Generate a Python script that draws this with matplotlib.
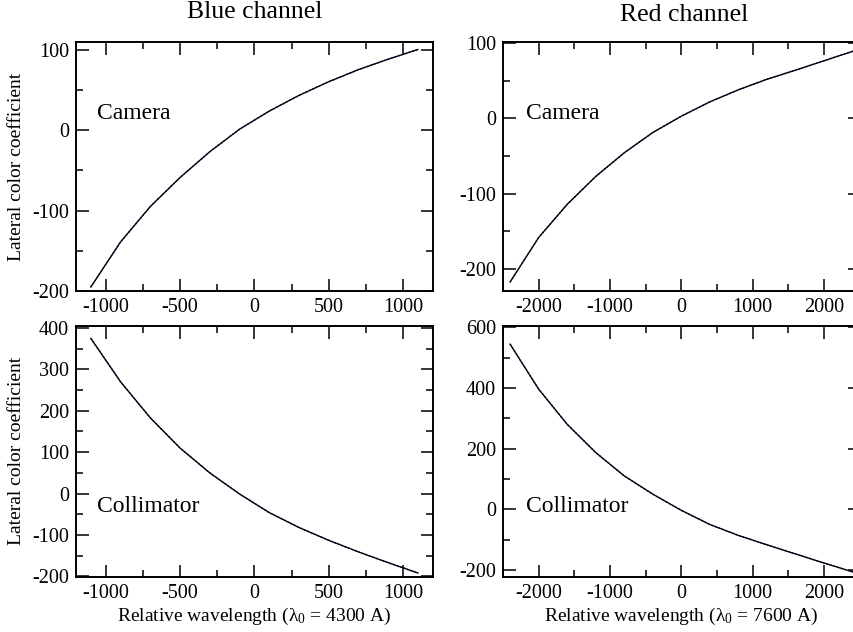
import matplotlib
matplotlib.use("Agg")
import matplotlib.pyplot as plt
from matplotlib.ticker import MultipleLocator

plt.rcParams['font.family'] = ['Liberation Serif', 'DejaVu Serif']
plt.rcParams['mathtext.fontset'] = 'custom'
plt.rcParams['mathtext.rm'] = 'Liberation Serif'
plt.rcParams['mathtext.it'] = 'Liberation Serif:italic'
plt.rcParams['axes.unicode_minus'] = False

# Blue channel data
blue_x = [-1100, -900, -700, -500, -300, -100, 100, 300, 500, 700, 900, 1100]
blue_camera = [-195, -139, -95, -59, -27, 1, 23.5, 43, 60, 75, 88, 100]
blue_collimator = [375, 270, 183, 110, 50, -1, -46, -82, -113, -141, -167, -192]

# Red channel data
red_x = [-2400, -2000, -1600, -1200, -800, -400, 0, 400, 800, 1200, 1600, 2000, 2400]
red_camera = [-217, -158, -114, -77, -45.6, -18.7, 3, 22, 38, 52, 64, 76.5, 89]
red_collimator = [544, 396, 280, 187, 110, 50, -3.5, -50, -86, -117, -147, -177, -206]

titles = ["Blue channel", "Red channel"]
ylabel = "Lateral color coefficient"
xlabels = ["Relative wavelength (λ$_0$ = 4300 A)", "Relative wavelength (λ$_0$ = 7600 A)"]

W, H = 854, 632
fig = plt.figure(figsize=(W / 100, H / 100), dpi=100)

def rect(l, r, t, b):
    return [l / W, (H - b) / H, (r - l) / W, (b - t) / H]

ax_tl = fig.add_axes(rect(76, 432.7, 42.3, 291))
ax_tr = fig.add_axes(rect(503, 859.7, 42.3, 291))
ax_bl = fig.add_axes(rect(76, 432.7, 326, 576.7))
ax_br = fig.add_axes(rect(503, 859.7, 326, 576.7))

def style(ax, xmaj, xmin, ymaj, ymin):
    ax.xaxis.set_major_locator(MultipleLocator(xmaj))
    ax.xaxis.set_minor_locator(MultipleLocator(xmin))
    ax.yaxis.set_major_locator(MultipleLocator(ymaj))
    ax.yaxis.set_minor_locator(MultipleLocator(ymin))
    ax.tick_params(which='both', direction='in', top=True, right=True, width=1.1, color='black')
    ax.tick_params(which='major', length=9, labelsize=14.5, pad=5)
    ax.tick_params(which='minor', length=5)
    for s in ax.spines.values():
        s.set_linewidth(1.4)

def draw(ax, x, y):
    ax.plot(x, y, color='blue', lw=1.0, ls=':')
    ax.plot(x, y, color='black', lw=1.0)

draw(ax_tl, blue_x, blue_camera)
ax_tl.set_xlim(-1200, 1200)
ax_tl.set_ylim(-200, 109)
style(ax_tl, 500, 250, 100, 50)
ax_tl.text(0.058, 0.712, "Camera", transform=ax_tl.transAxes, fontsize=17, va='center', ha='left')
ax_tl.set_ylabel(ylabel, fontsize=14)
ax_tl.yaxis.set_label_coords(-0.143, 0.5)

draw(ax_tr, red_x, red_camera)
ax_tr.set_xlim(-2500, 2500)
ax_tr.set_ylim(-229, 101)
style(ax_tr, 1000, 500, 100, 50)
ax_tr.text(0.064, 0.712, "Camera", transform=ax_tr.transAxes, fontsize=17, va='center', ha='left')

draw(ax_bl, blue_x, blue_collimator)
ax_bl.set_xlim(-1200, 1200)
ax_bl.set_ylim(-201, 405)
style(ax_bl, 500, 250, 100, 50)
ax_bl.text(0.058, 0.282, "Collimator", transform=ax_bl.transAxes, fontsize=17, va='center', ha='left')
ax_bl.set_ylabel(ylabel, fontsize=14)
ax_bl.yaxis.set_label_coords(-0.143, 0.5)
ax_bl.set_xlabel(xlabels[0], fontsize=14, labelpad=2)

draw(ax_br, red_x, red_collimator)
ax_br.set_xlim(-2500, 2500)
ax_br.set_ylim(-222, 604)
style(ax_br, 1000, 500, 200, 100)
ax_br.text(0.064, 0.282, "Collimator", transform=ax_br.transAxes, fontsize=17, va='center', ha='left')
ax_br.set_xlabel(xlabels[1], fontsize=14, labelpad=2)

fig.text(255 / W, 1 - 12 / H, titles[0], fontsize=18.5, ha='center', va='center')
fig.text(684 / W, 1 - 15 / H, titles[1], fontsize=18.5, ha='center', va='center')

fig.savefig("out.png", dpi=100)
